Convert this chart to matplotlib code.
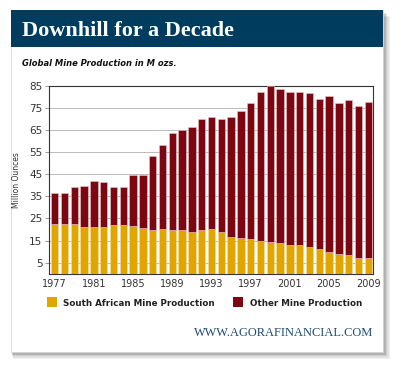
import numpy as np
import matplotlib
matplotlib.use("Agg")
import matplotlib.pyplot as plt
from matplotlib.patches import Rectangle

years = list(range(1977, 2010))
south_africa = [22.5, 22.5, 22.5, 21.3, 21.3, 21.3, 22.0, 22.0, 21.6, 20.5,
                19.6, 20.1, 19.6, 19.6, 18.9, 19.6, 20.1, 18.9, 16.7, 16.1,
                15.5, 14.8, 14.3, 13.9, 13.0, 13.0, 12.1, 11.2, 9.7, 8.9,
                8.3, 7.1, 7.1]
total = [36.6, 36.6, 39.3, 39.6, 41.8, 41.3, 39.2, 39.0, 44.5, 44.5,
         53.2, 58.2, 63.5, 64.8, 66.3, 69.9, 71.0, 70.1, 71.0, 73.6,
         77.2, 82.1, 85.0, 83.5, 82.1, 82.1, 81.8, 78.8, 80.2, 77.0,
         78.4, 75.7, 77.8]
other = [t - s for t, s in zip(total, south_africa)]
yticks = [5, 15, 25, 35, 45, 55, 65, 75, 85]
xtick_years = list(range(1977, 2010, 4))

yellow = "#E2A500"
red = "#7C0713"
navy = "#003C5E"

fig = plt.figure(figsize=(4, 3.7), dpi=100)
W, H = 400, 370

def fx(px):
    return px / W

def fy(py):
    return 1 - py / H

# drop shadow
for i, a in enumerate([0.05, 0.07, 0.09, 0.12]):
    d = 7 - i * 1.5
    fig.patches.append(Rectangle((fx(11 + d * 0.3), fy(352 + d)), fx(372 + d * 0.7), 342 / H,
                                 transform=fig.transFigure, color="black", alpha=a, lw=0, zorder=0))
# panel
fig.patches.append(Rectangle((fx(11), fy(352)), fx(372), 342 / H, transform=fig.transFigure,
                             facecolor="white", edgecolor="#d0d0d0", lw=0.5, zorder=1))
# header
fig.patches.append(Rectangle((fx(11), fy(47)), fx(372), 37 / H, transform=fig.transFigure,
                             facecolor=navy, lw=0, zorder=2))
fig.text(fx(22), fy(36.5), "Downhill for a Decade", color="white", fontsize=16,
         fontweight="bold", family="Liberation Serif", va="baseline", ha="left", zorder=3)
fig.text(fx(22), fy(66), "Global Mine Production in M ozs.", color="#111111", fontsize=6.0,
         fontweight="bold", style="italic", family="DejaVu Sans", va="baseline", zorder=3)

ax = fig.add_axes([fx(49.3), fy(273.7), fx(372.7 - 49.3), (273.7 - 85.7) / H])
ax.set_zorder(4)
x = np.arange(len(years))
ax.bar(x, south_africa, width=0.75, color=yellow, edgecolor="#f3dfa0", lw=0.4, zorder=3)
ax.bar(x, other, bottom=south_africa, width=0.75, color=red, edgecolor="#e8c8c8", lw=0.4, zorder=3)
ax.set_xlim(-0.55, 32.45)
ax.set_ylim(0, 85)
ax.set_yticks(yticks)
ax.set_yticklabels([str(v) for v in yticks], fontsize=7.5, color="#333333")
ax.set_xticks([years.index(y) for y in xtick_years])
ax.set_xticklabels([str(y) for y in xtick_years], fontsize=7, color="#333333")
ax.tick_params(axis="y", length=3, width=0.6, color="#888888", pad=2)
ax.tick_params(axis="x", length=0, pad=4)
ax.grid(axis="y", color="#bbbbbb", lw=0.7, zorder=0)
for s in ax.spines.values():
    s.set_color("#333333")
    s.set_linewidth(0.8)
ax.set_ylabel("Million Ounces", fontsize=5.5, color="#333333", labelpad=6)

# legend
fig.patches.append(Rectangle((fx(47), fy(307)), fx(10), 10 / H, transform=fig.transFigure,
                             facecolor=yellow, lw=0, zorder=3))
fig.text(fx(63), fy(306), "South African Mine Production", fontsize=6.3, fontweight="bold",
         color="#222222", va="baseline", zorder=3)
fig.patches.append(Rectangle((fx(233), fy(307)), fx(10), 10 / H, transform=fig.transFigure,
                             facecolor=red, lw=0, zorder=3))
fig.text(fx(250), fy(306), "Other Mine Production", fontsize=6.3, fontweight="bold",
         color="#222222", va="baseline", zorder=3)

fig.text(fx(373), fy(336), "WWW.AGORAFINANCIAL.COM", fontsize=8.9, family="Liberation Serif",
         color="#1E4B6E", ha="right", va="baseline", zorder=3)

fig.savefig("out.png", dpi=100)
